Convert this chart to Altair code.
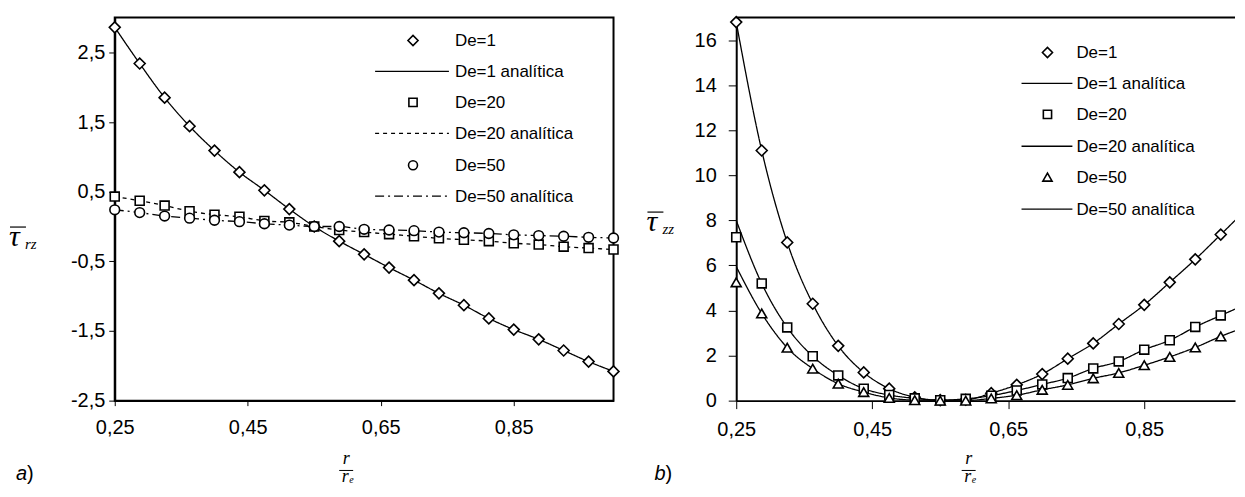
import altair as alt
import pandas as pd

# ---------------- data ----------------
r_pts = [0.25, 0.2875, 0.325, 0.3625, 0.4, 0.4375, 0.475, 0.5125, 0.55, 0.5875,
         0.625, 0.6625, 0.7, 0.7375, 0.775, 0.8125, 0.85, 0.8875, 0.925, 0.9625, 1.0]

point_labels = ["De=1", "De=20", "De=50"]
line_labels = ["De=1 analítica", "De=20 analítica", "De=50 analítica"]

# panel a) tau_rz
trz_de1 = [2.86, 2.34, 1.85, 1.44, 1.09, 0.78, 0.52, 0.25, 0.0, -0.21, -0.40,
           -0.59, -0.77, -0.96, -1.13, -1.32, -1.48, -1.62, -1.78, -1.94, -2.08]
trz_de20 = [0.43, 0.37, 0.30, 0.22, 0.17, 0.14, 0.08, 0.06, 0.0, -0.05, -0.08,
            -0.11, -0.14, -0.17, -0.19, -0.21, -0.24, -0.26, -0.29, -0.31, -0.33]
trz_de50 = [0.24, 0.20, 0.15, 0.12, 0.09, 0.07, 0.04, 0.02, 0.0, 0.0, -0.04,
            -0.05, -0.06, -0.08, -0.09, -0.10, -0.12, -0.13, -0.14, -0.155, -0.165]
trz_an_de1 = [2.86, 2.34, 1.85, 1.44, 1.09, 0.78, 0.52, 0.25, 0.0, -0.21, -0.40,
              -0.59, -0.77, -0.96, -1.13, -1.32, -1.48, -1.62, -1.78, -1.94, -2.08]
trz_an_de20 = [0.43, 0.37, 0.30, 0.22, 0.17, 0.14, 0.08, 0.06, 0.0, -0.05, -0.08,
               -0.11, -0.14, -0.17, -0.19, -0.21, -0.24, -0.26, -0.29, -0.31, -0.33]
trz_an_de50 = [0.24, 0.20, 0.15, 0.12, 0.09, 0.07, 0.04, 0.02, 0.0, 0.0, -0.04,
               -0.05, -0.06, -0.08, -0.09, -0.10, -0.12, -0.13, -0.14, -0.155, -0.165]

# panel b) tau_zz
tzz_de1 = [16.8, 11.1, 7.02, 4.30, 2.43, 1.25, 0.53, 0.15, 0.02, 0.04, 0.33,
           0.70, 1.18, 1.86, 2.54, 3.40, 4.25, 5.25, 6.27, 7.37, 8.49]
tzz_de20 = [7.25, 5.20, 3.25, 1.97, 1.12, 0.53, 0.25, 0.10, 0.02, 0.08, 0.22,
            0.45, 0.72, 1.00, 1.43, 1.74, 2.26, 2.68, 3.27, 3.78, 4.28]
tzz_de50 = [5.25, 3.87, 2.35, 1.42, 0.75, 0.38, 0.12, 0.02, 0.0, 0.0, 0.10,
            0.24, 0.48, 0.70, 0.99, 1.23, 1.57, 1.94, 2.36, 2.85, 3.28]
tzz_an_de1 = [16.8, 11.1, 7.02, 4.30, 2.43, 1.25, 0.53, 0.15, 0.02, 0.04, 0.33,
              0.70, 1.18, 1.86, 2.54, 3.40, 4.25, 5.25, 6.27, 7.37, 8.49]
tzz_an_de20 = [8.0, 5.20, 3.25, 1.97, 1.12, 0.53, 0.25, 0.10, 0.02, 0.08, 0.22,
               0.45, 0.72, 1.00, 1.43, 1.74, 2.26, 2.68, 3.27, 3.78, 4.28]
tzz_an_de50 = [5.95, 3.87, 2.35, 1.42, 0.75, 0.38, 0.12, 0.02, 0.0, 0.0, 0.10,
               0.24, 0.48, 0.70, 0.99, 1.23, 1.57, 1.94, 2.36, 2.85, 3.28]

x_ticks = [0.25, 0.45, 0.65, 0.85]
a_y_ticks = [-2.5, -1.5, -0.5, 0.5, 1.5, 2.5]
b_y_ticks = [0, 2, 4, 6, 8, 10, 12, 14, 16]

# ---------------- helpers ----------------
SANS = "Liberation Sans"
SERIF = "Liberation Serif"


def long_df(labels, arrays):
    rows = []
    for lab, arr in zip(labels, arrays):
        for xv, yv in zip(r_pts, arr):
            rows.append({"r": xv, "v": yv, "series": lab})
    return pd.DataFrame(rows)


def panel(pts, lns, c):
    width, height = c["width"], c["height"]
    xenc = alt.X("r:Q", scale=alt.Scale(domain=c["xdom"], nice=False, zero=False),
                 axis=alt.Axis(values=x_ticks, title=None, grid=False, labelFlush=False,
                               tickSize=c["xtick"], labelPadding=c["xpad"],
                               labelExpr="replace(format(datum.value, '.2f'), '.', ',')"))
    yenc = alt.Y("v:Q", scale=alt.Scale(domain=c["ydom"], nice=False, zero=False),
                 axis=alt.Axis(values=c["yticks"], title=None, grid=False, labelFlush=False,
                               tickSize=c["ytick"], labelPadding=c["ypad"],
                               labelExpr=c["ylab"]))
    layers = []
    for k, lab in enumerate(line_labels):
        d = lns[lns.series == lab]
        layers.append(alt.Chart(d).mark_line(color="black", strokeWidth=1.3,
                                             interpolate="monotone", clip=True,
                                             strokeDash=c["dashes"][k]).encode(x=xenc, y=yenc))
    for k, lab in enumerate(point_labels):
        d = pts[pts.series == lab]
        ch = alt.Chart(d).mark_point(filled=True, fill="white", stroke="black",
                                     strokeWidth=1.6, opacity=1,
                                     shape=c["shapes"][k],
                                     size=c["sizes"][k]).encode(x=xenc, y=yenc)
        if c["xdom"][1] < 1.0:
            ch = ch.transform_filter(f"datum.r <= {c['xdom'][1]}")
        layers.append(ch)
    # legend (drawn inside the plot, upper right)
    entries = []
    for k in range(3):
        entries.append(("pt", point_labels[k], k))
        entries.append(("ln", line_labels[k], k))
    for (kind, lab, k), ry in zip(entries, c["leg_rows"]):
        src = alt.Chart(pd.DataFrame({"label": [lab]}))
        if kind == "pt":
            layers.append(src.mark_point(filled=True, fill="white", stroke="black",
                                         strokeWidth=1.6, opacity=1, shape=c["shapes"][k],
                                         size=c["sizes"][k] * 0.85).encode(
                x=alt.value(c["leg_sym_x"]), y=alt.value(ry)))
        else:
            layers.append(src.mark_rule(color="black", strokeWidth=1.3,
                                        strokeDash=c["dashes"][k]).encode(
                x=alt.value(c["leg_line_x"][0]), x2=alt.value(c["leg_line_x"][1]),
                y=alt.value(ry)))
        layers.append(src.mark_text(align="left", baseline="middle", font=SANS,
                                    fontSize=17, color="black").encode(
            x=alt.value(c["leg_text_x"]), y=alt.value(ry + 1), text="label:N"))
    one = alt.Chart(pd.DataFrame({"label": ["t"]}))
    tx, ty = c["tau_x"], c["tau_y"]
    # y-axis title: tau with overline and subscript
    layers.append(one.mark_text(align="left", baseline="alphabetic", font=SERIF,
                                fontStyle="italic", fontSize=30, color="black").encode(
        x=alt.value(tx - 1), y=alt.value(ty), text=alt.value("τ")))
    layers.append(one.mark_rule(color="black", strokeWidth=1.2).encode(
        x=alt.value(tx), x2=alt.value(tx + 16), y=alt.value(ty - 19)))
    layers.append(one.mark_text(align="left", baseline="alphabetic", font=SERIF,
                                fontStyle="italic", fontSize=15, color="black").encode(
        x=alt.value(tx + 15), y=alt.value(ty + 3), text=alt.value(c["sub"])))
    # x-axis title: fraction r / r_e
    fx = c["frac_x"]
    layers.append(one.mark_text(align="center", baseline="alphabetic", font=SERIF,
                                fontStyle="italic", fontSize=18, color="black").encode(
        x=alt.value(fx), y=alt.value(height + 64), text=alt.value("r")))
    layers.append(one.mark_rule(color="black", strokeWidth=1).encode(
        x=alt.value(fx - 7), x2=alt.value(fx + 7), y=alt.value(height + 70)))
    layers.append(one.mark_text(align="center", baseline="alphabetic", font=SERIF,
                                fontStyle="italic", fontSize=18, color="black").encode(
        x=alt.value(fx - 1), y=alt.value(height + 82), text=alt.value("r")))
    layers.append(one.mark_text(align="left", baseline="alphabetic", font=SERIF,
                                fontStyle="italic", fontSize=10, color="black").encode(
        x=alt.value(fx + 3), y=alt.value(height + 83), text=alt.value("e")))
    # panel letter
    lx = c["letter_x"]
    layers.append(one.mark_text(align="left", baseline="middle", font=SANS,
                                fontStyle="italic", fontSize=20, color="black").encode(
        x=alt.value(lx), y=alt.value(height + 74), text=alt.value(c["letter"])))
    layers.append(one.mark_text(align="left", baseline="middle", font=SANS,
                                fontSize=20, color="black").encode(
        x=alt.value(lx + 11), y=alt.value(height + 74), text=alt.value(")")))
    if c["top_rule"]:
        layers.append(one.mark_rule(color="black", strokeWidth=2).encode(
            x=alt.value(0), x2=alt.value(width), y=alt.value(0)))
    ch = alt.layer(*layers).properties(width=width, height=height)
    if c["top_rule"]:
        ch = ch.properties(view=alt.ViewBackground(stroke="transparent"))
    return ch


neg_fmt = "(datum.value < 0 ? '-' : '') + replace(format(abs(datum.value), '.1f'), '.', ',')"

pts_a = long_df(point_labels, [trz_de1, trz_de20, trz_de50])
lns_a = long_df(line_labels, [trz_an_de1, trz_an_de20, trz_an_de50])
pts_b = long_df(point_labels, [tzz_de1, tzz_de20, tzz_de50])
lns_b = long_df(line_labels, [tzz_an_de1, tzz_an_de20, tzz_an_de50])

cfg_a = dict(width=500, height=384, xdom=[0.25, 1.0], ydom=[-2.5, 3.0], yticks=a_y_ticks,
             ylab=neg_fmt, xtick=5, xpad=12, ytick=6, ypad=4,
             shapes=["diamond", "square", "circle"], sizes=[120, 80, 95],
             dashes=[[1, 0], [4, 4], [9, 4, 2, 4]],
             leg_rows=[23, 54, 85, 116, 148, 179], leg_sym_x=299, leg_line_x=(261, 335),
             leg_text_x=341, tau_x=-105, tau_y=229, sub="rz", letter="a", letter_x=-99,
             frac_x=232, top_rule=False)
cfg_b = dict(width=500, height=384, xdom=[0.25, 0.25 + 500 / 681.7], ydom=[0, 17],
             yticks=b_y_ticks, ylab="format(datum.value, 'd')", xtick=8, xpad=11, ytick=8,
             ypad=12,
             shapes=["diamond", "square", "triangle-up"], sizes=[120, 80, 100],
             dashes=[[1, 0], [1, 0], [1, 0]],
             leg_rows=[35, 66, 97, 129, 160, 192], leg_sym_x=312, leg_line_x=(286, 337),
             leg_text_x=341, tau_x=-89, tau_y=214, sub="zz", letter="b", letter_x=-82,
             frac_x=233, top_rule=True)

left = panel(pts_a, lns_a, cfg_a)
right = panel(pts_b, lns_b, cfg_b)

chart = alt.hconcat(left, right, spacing=123, bounds="flush").properties(
    padding={"left": 0, "top": 3, "right": 0, "bottom": 0}
).configure_view(stroke="black", strokeWidth=2).configure_axis(
    domainColor="black", domainWidth=2, tickColor="black", tickWidth=1,
    labelFont=SANS, labelFontSize=20, labelColor="black", grid=False
)

chart.save("out.html", embed_options={"renderer": "svg", "actions": False})
